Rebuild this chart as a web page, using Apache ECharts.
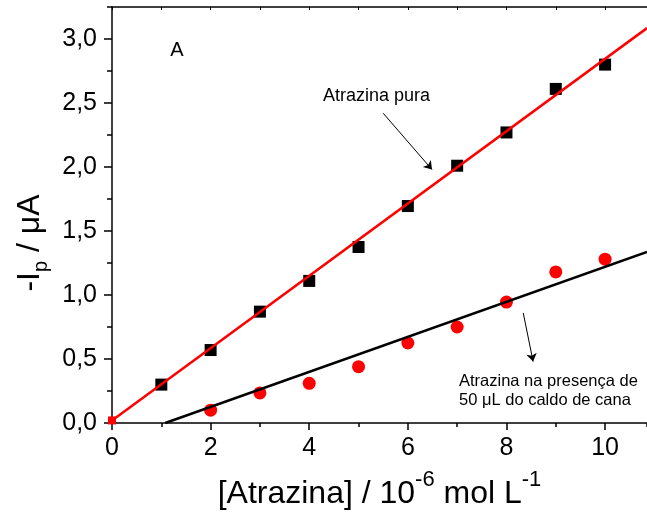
<!DOCTYPE html>
<html>
<head>
<meta charset="utf-8">
<script src="https://cdn.jsdelivr.net/npm/echarts@6/dist/echarts.min.js"></script>
<style>
html,body{margin:0;padding:0;background:#fff;}
#chart{width:647px;height:525px;}
</style>
</head>
<body>
<div id="chart"></div>
<script>
// ---- data ----
var concPura = [1, 2, 3, 4, 5, 6, 7, 8, 9, 10];
var ipPura = [0.30, 0.57, 0.87, 1.11, 1.375, 1.695, 2.01, 2.27, 2.61, 2.80];
var concCaldo = [2, 3, 4, 5, 6, 7, 8, 9, 10];
var ipCaldo = [0.10, 0.235, 0.31, 0.44, 0.625, 0.75, 0.945, 1.18, 1.28];
var origemX = [0];
var origemY = [0.02];
// fitted straight lines (end points)
var fitPuraX = [0, 10.85];
var fitPuraY = [0.02, 3.085];
var fitCaldoX = [1.08, 10.85];
var fitCaldoY = [0, 1.336];
// arrows (data coordinates)
var arrowPura = [[5.50, 2.42], [6.49, 1.98]];
var arrowCaldo = [[8.34, 0.86], [8.54, 0.48]];
var xTicks = [0, 2, 4, 6, 8, 10];
var yTicks = [0, 0.5, 1.0, 1.5, 2.0, 2.5, 3.0];

function zip(xs, ys) { return xs.map(function (x, i) { return [x, ys[i]]; }); }

var FONT = 'Liberation Sans, Arial, Helvetica, sans-serif';
var chart = echarts.init(document.getElementById('chart'), null, {renderer: 'canvas'});

var option = {
  backgroundColor: '#ffffff',
  animation: false,
  grid: {left: 112, top: 7, right: 0, bottom: 102, containLabel: false},
  xAxis: [
    {
      type: 'value', min: 0, max: 10.85, interval: 2, position: 'bottom',
      axisLine: {show: true, lineStyle: {color: '#000', width: 1.5}},
      axisTick: {show: true, inside: false, length: 7, lineStyle: {color: '#000', width: 1.5}},
      axisLabel: {
        show: true, margin: 13, fontSize: 25, color: '#000', fontFamily: FONT,
        showMaxLabel: false,
        formatter: function (v) { return xTicks.indexOf(v) >= 0 ? String(v) : ''; }
      },
      splitLine: {show: false},
      name: '{m|[Atrazina] / 10}{s|-6}{m| mol L}{s|-1}',
      nameLocation: 'middle', nameGap: 46,
      nameTextStyle: {
        fontFamily: FONT, color: '#000',
        rich: {
          m: {fontSize: 32, lineHeight: 50, fontFamily: FONT, color: '#000'},
          s: {fontSize: 22, lineHeight: 22, verticalAlign: 'top', fontFamily: FONT, color: '#000'}
        }
      }
    },
    {
      // minor ticks on the bottom axis
      type: 'value', min: 0, max: 10.85, interval: 1, position: 'bottom',
      axisLine: {show: false},
      axisTick: {show: true, inside: false, length: 4, lineStyle: {color: '#000', width: 1.5}},
      axisLabel: {show: false}, splitLine: {show: false}
    },
    {
      // top frame line
      type: 'value', min: 0, max: 10.85, interval: 1, position: 'top',
      axisLine: {show: true, lineStyle: {color: '#000', width: 1.5}},
      axisTick: {show: true, inside: true, length: 3, lineStyle: {color: '#000', width: 1}},
      axisLabel: {show: false}, splitLine: {show: false}
    }
  ],
  yAxis: [
    {
      type: 'value', min: 0, max: 3.25, interval: 0.5, position: 'left',
      axisLine: {show: true, lineStyle: {color: '#000', width: 1.5}},
      axisTick: {show: true, inside: false, length: 8, lineStyle: {color: '#000', width: 1.5}},
      axisLabel: {
        show: true, margin: 15, fontSize: 25, color: '#000', fontFamily: FONT,
        showMaxLabel: false,
        formatter: function (v) {
          for (var i = 0; i < yTicks.length; i++) {
            if (Math.abs(yTicks[i] - v) < 1e-6) return yTicks[i].toFixed(1).replace('.', ',');
          }
          return '';
        }
      },
      splitLine: {show: false},
      name: '{m|-I}{b|p}{m| / \u03bcA}',
      nameLocation: 'middle', nameRotate: 90, nameGap: 59,
      nameTextStyle: {
        fontFamily: FONT, color: '#000',
        padding: [0, 56, 0, 0],
        rich: {
          m: {fontSize: 32, lineHeight: 42, fontFamily: FONT, color: '#000'},
          b: {fontSize: 20, lineHeight: 20, verticalAlign: 'bottom', fontFamily: FONT, color: '#000'}
        }
      }
    },
    {
      type: 'value', min: 0, max: 3.25, interval: 0.25, position: 'left',
      axisLine: {show: false},
      axisTick: {show: true, inside: false, length: 5, lineStyle: {color: '#000', width: 1.5}},
      axisLabel: {show: false}, splitLine: {show: false}
    }
  ],
  series: [
    {
      name: 'Atrazina pura', type: 'scatter', symbol: 'rect', symbolSize: 12,
      itemStyle: {color: '#000', opacity: 1}, data: zip(concPura, ipPura), z: 2
    },
    {
      name: 'Atrazina na presença de 50 μL do caldo de cana', type: 'scatter', symbol: 'circle', symbolSize: 13,
      itemStyle: {color: '#ff0000', opacity: 1}, data: zip(concCaldo, ipCaldo), z: 2
    },
    {
      name: 'origem', type: 'scatter', symbol: 'rect', symbolSize: 8, clip: false,
      itemStyle: {color: '#ff0000', opacity: 1}, data: zip(origemX, origemY), z: 3
    },
    {
      name: 'ajuste pura', type: 'line', showSymbol: false, symbol: 'none',
      lineStyle: {color: '#ff0000', width: 2.5}, data: zip(fitPuraX, fitPuraY), z: 3
    },
    {
      name: 'ajuste caldo', type: 'line', showSymbol: false, symbol: 'none',
      lineStyle: {color: '#000', width: 2.5}, data: zip(fitCaldoX, fitCaldoY), z: 3,
      markLine: {
        silent: true, symbol: ['none', 'arrow'], symbolSize: 8, animation: false,
        label: {show: false},
        lineStyle: {color: '#000', width: 1, type: 'solid'},
        emphasis: {disabled: true},
        data: [
          [{coord: arrowPura[0]}, {coord: arrowPura[1]}],
          [{coord: arrowCaldo[0]}, {coord: arrowCaldo[1]}]
        ]
      }
    }
  ],
  graphic: [
    {type: 'text', style: {x: 177, y: 50, text: 'A', fontSize: 20, fontFamily: FONT, fill: '#000', align: 'center', verticalAlign: 'middle'}},
    {type: 'text', style: {x: 323, y: 96, text: 'Atrazina pura', fontSize: 18, fontFamily: FONT, fill: '#000', align: 'left', verticalAlign: 'middle'}},
    {type: 'text', style: {x: 459, y: 381, text: 'Atrazina na presença de', fontSize: 16.5, fontFamily: FONT, fill: '#000', align: 'left', verticalAlign: 'middle'}},
    {type: 'text', style: {x: 459, y: 400, text: '50 \u03bcL do caldo de cana', fontSize: 16.5, fontFamily: FONT, fill: '#000', align: 'left', verticalAlign: 'middle'}}
  ]
};
chart.setOption(option);
</script>
</body>
</html>
